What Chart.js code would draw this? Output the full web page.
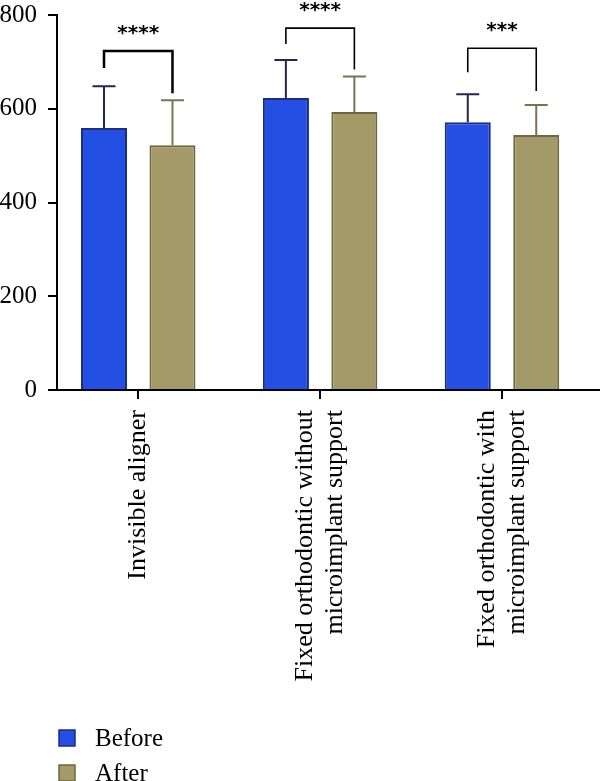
<!DOCTYPE html>
<html>
<head>
<meta charset="utf-8">
<script src="https://cdn.jsdelivr.net/npm/chart.js@4.4.1/dist/chart.umd.min.js"></script>
<style>
  body { margin: 0; background: #fff; }
  #wrap { width: 600px; height: 781px; position: relative; }
</style>
</head>
<body>
<div id="wrap"><canvas id="grafica"></canvas></div>
<script>
// datos
const categorias = [
    ["Invisible aligner"],
    ["Fixed orthodontic without", "microimplant support"],
    ["Fixed orthodontic with", "microimplant support"]
];
const antes = [559, 623, 571];
const despues = [522, 593, 544];
const antesSup = [648, 704, 631];     // media + DE
const despuesSup = [618, 669, 608];
const significancia = ["****", "****", "***"];
const corcheteTop = [723, 772, 729];
const corcheteIzq = [687, 738, 678];
const corcheteDer = [633, 684, 638];
const yTicks = [0, 200, 400, 600, 800];

const azul = "#2350E2", azulBorde = "#1C2C80", azulBarra = "#222650";
const oliva = "#A39A68", olivaBorde = "#6E6642", olivaBarra = "#7A7350";
const fuente = '"Liberation Serif", serif';

const erroresPlugin = {
    id: "errores",
    afterDatasetsDraw(chart) {
        const ctx = chart.ctx;
        const y = chart.scales.y;
        const sup = [antesSup, despuesSup];
        const colores = [azulBarra, olivaBarra];
        ctx.save();
        ctx.lineWidth = 2;
        chart.data.datasets.forEach((ds, d) => {
            chart.getDatasetMeta(d).data.forEach((bar, i) => {
                const yTop = y.getPixelForValue(sup[d][i]);
                ctx.strokeStyle = colores[d];
                ctx.beginPath();
                ctx.moveTo(bar.x, bar.y);
                ctx.lineTo(bar.x, yTop);
                ctx.moveTo(bar.x - 11.5, yTop);
                ctx.lineTo(bar.x + 11.5, yTop);
                ctx.stroke();
            });
        });
        // corchetes de significancia
        const m0 = chart.getDatasetMeta(0).data;
        const m1 = chart.getDatasetMeta(1).data;
        ctx.strokeStyle = "#000";
        ctx.fillStyle = "#000";
        significancia.forEach((txt, i) => {
            const x1 = m0[i].x, x2 = m1[i].x;
            const top = y.getPixelForValue(corcheteTop[i]);
            ctx.lineWidth = i === 0 ? 2.5 : 1.6;
            ctx.beginPath();
            ctx.moveTo(x1, y.getPixelForValue(corcheteIzq[i]));
            ctx.lineTo(x1, top);
            ctx.lineTo(x2, top);
            ctx.lineTo(x2, y.getPixelForValue(corcheteDer[i]));
            ctx.stroke();
            ctx.font = 'bold 20px "DejaVu Sans", sans-serif';
            ctx.textAlign = "center";
            ctx.textBaseline = "middle";
            ctx.fillText(txt, (x1 + x2) / 2, top - 17);
        });
        ctx.restore();
    },
    afterDraw(chart) {
        const ctx = chart.ctx;
        const x = chart.scales.x;
        ctx.save();
        // etiquetas del eje x, rotadas
        ctx.fillStyle = "#000";
        ctx.font = "26px " + fuente;
        ctx.textAlign = "right";
        ctx.textBaseline = "middle";
        categorias.forEach((lineas, i) => {
            const px = x.getPixelForValue(i);
            ctx.save();
            ctx.translate(px, 410);
            ctx.rotate(-Math.PI / 2);
            lineas.forEach((t, j) => {
                ctx.fillText(t, 0, (j - (lineas.length - 1) / 2) * 30);
            });
            ctx.restore();
        });
        // leyenda
        const items = [[azul, azulBorde, 730], [oliva, olivaBorde, 765]];
        ctx.font = "25px " + fuente;
        ctx.textAlign = "left";
        chart.data.datasets.forEach((ds, d) => {
            const [c, b, top] = items[d];
            ctx.fillStyle = c;
            ctx.fillRect(59, top, 16, 16);
            ctx.strokeStyle = b;
            ctx.lineWidth = 1.5;
            ctx.strokeRect(59, top, 16, 16);
            ctx.fillStyle = "#000";
            ctx.fillText(ds.label, 95, top + 9);
        });
        ctx.restore();
    }
};

new Chart(document.getElementById("grafica"), {
    type: "bar",
    data: {
        datasets: [{
            label: "Before",
            data: antes.map((v, i) => ({ x: i, y: v })),
            backgroundColor: azul,
            borderColor: azulBorde,
            borderWidth: 2,
            borderSkipped: "bottom"
        }, {
            label: "After",
            data: despues.map((v, i) => ({ x: i, y: v })),
            backgroundColor: oliva,
            borderColor: olivaBorde,
            borderWidth: 2,
            borderSkipped: "bottom"
        }]
    },
    options: {
        responsive: true,
        maintainAspectRatio: false,
        animation: false,
        categoryPercentage: 0.753,
        barPercentage: 0.672,
        layout: { padding: { top: 15, right: 0, left: 0, bottom: 0 } },
        plugins: { legend: { display: false }, tooltip: { enabled: false } },
        scales: {
            x: {
                type: "linear",
                min: -0.4467,
                max: 2.5388,
                offset: false,
                afterBuildTicks: (s) => { s.ticks = categorias.map((c, i) => ({ value: i })); },
                afterFit: (s) => { s.height = 391; s.paddingLeft = 0; s.paddingRight = 0; },
                ticks: { display: false },
                grid: { display: true, offset: false, drawOnChartArea: false, tickLength: 9, color: "#000", lineWidth: 2 },
                border: { display: true, color: "#000", width: 2 }
            },
            y: {
                min: 0,
                max: 800,
                afterBuildTicks: (s) => { s.ticks = yTicks.map(v => ({ value: v })); },
                afterFit: (s) => { s.width = 57; s.paddingTop = 0; s.paddingBottom = 0; },
                ticks: { color: "#000", padding: 11, font: { family: fuente, size: 25 } },
                grid: { display: true, drawOnChartArea: false, tickLength: 9, color: "#000", lineWidth: 2 },
                border: { display: true, color: "#000", width: 2 }
            }
        }
    },
    plugins: [erroresPlugin]
});
</script>
</body>
</html>
